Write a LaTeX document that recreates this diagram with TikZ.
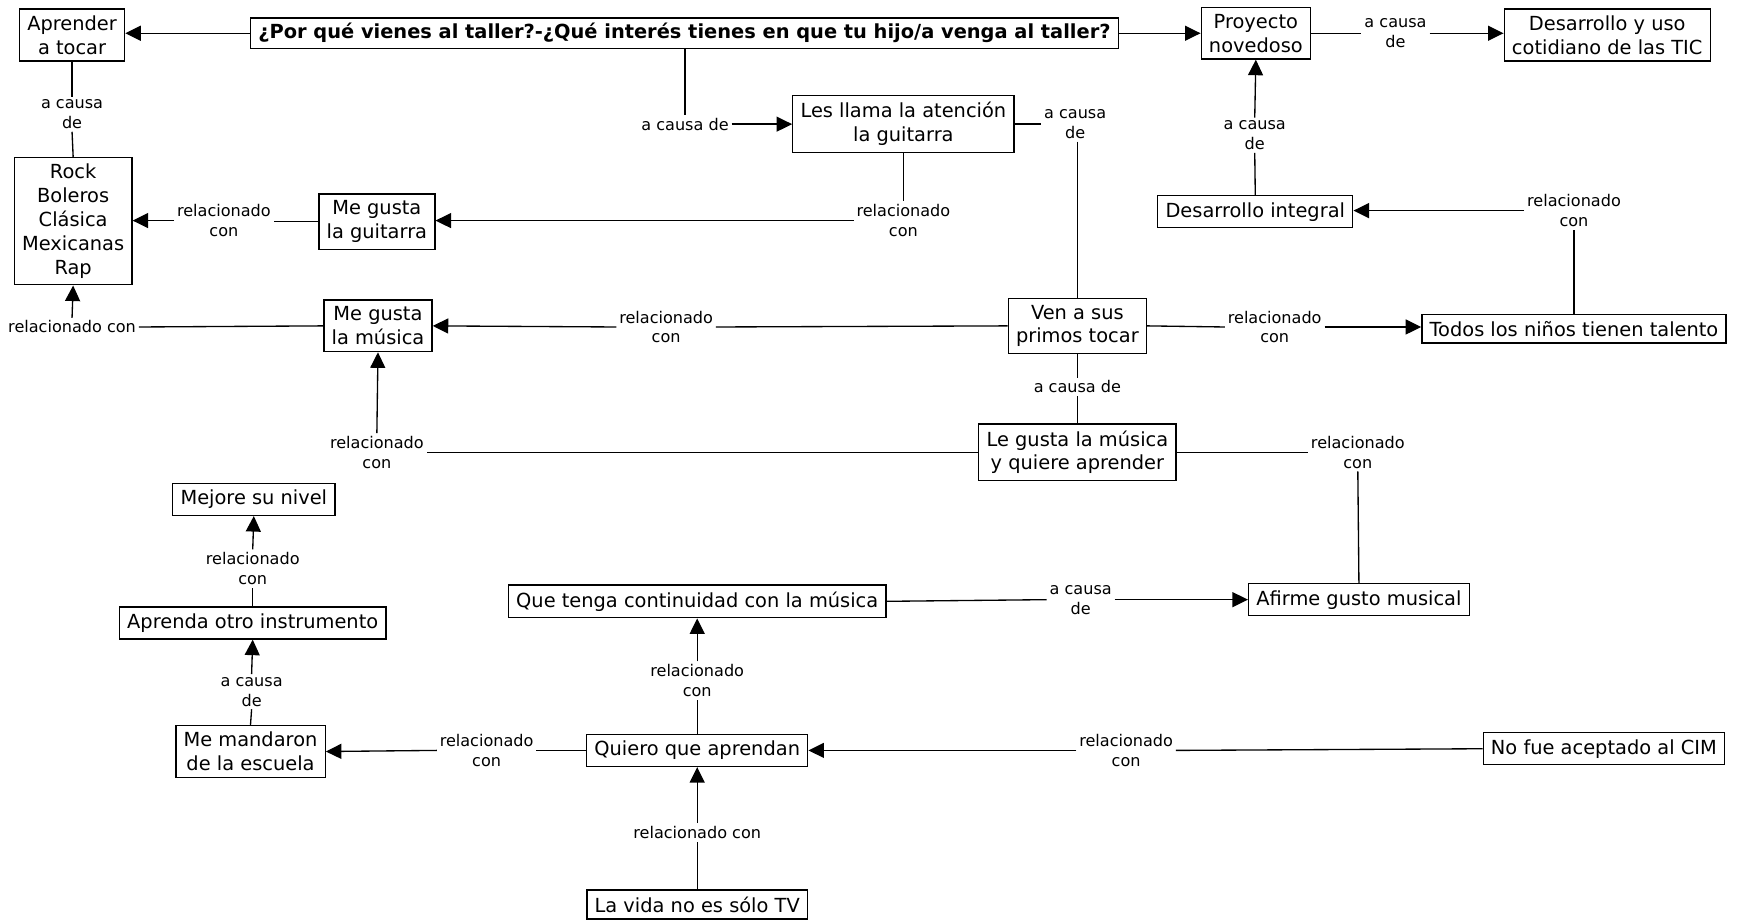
\documentclass[tikz,border=0pt]{standalone}
\usepackage{fontspec}
\setmainfont{DejaVu Sans}
\usetikzlibrary{arrows.meta}
\tikzset{
  box/.style={draw, line width=1.2pt, fill=white, align=center,
    font=\fontsize{17.5}{21.5}\selectfont, inner xsep=7pt, inner ysep=6pt},
  lbl/.style={align=center, font=\fontsize{14.5}{18}\selectfont, inner sep=2.5pt},
  con/.style={line width=1.2pt},
  arr/.style={con, -{Triangle[length=14pt,width=13.5pt]}},
}
\begin{document}
\begin{tikzpicture}[x=1pt,y=-1pt]
\useasboundingbox (0,0) rectangle (1568,830);
% concepts
\node[box] (aprender) at (65,31.5) {Aprender\\a tocar};
\node[box, font=\bfseries\fontsize{17.5}{21}\selectfont, inner ysep=5pt] (title) at (617.5,30) {¿Por qué vienes al taller?-¿Qué interés tienes en que tu hijo/a venga al taller?};
\node[box] (proyecto) at (1133,30) {Proyecto\\novedoso};
\node[box] (tic) at (1450,31.5) {Desarrollo y uso\\cotidiano de las TIC};
\node[box] (llama) at (815,112) {Les llama la atención\\la guitarra};
\node[box] (rock) at (66,199.5) {Rock\\Boleros\\Clásica\\Mexicanas\\Rap};
\node[box] (guitarra) at (340,200) {Me gusta\\la guitarra};
\node[box] (integral) at (1132.5,191) {Desarrollo integral};
\node[box] (musica) at (341,294) {Me gusta\\la música};
\node[box] (ven) at (972,294) {Ven a sus\\primos tocar};
\node[box] (todos) at (1420,296.5) {Todos los niños tienen talento};
\node[box] (legusta) at (972,408) {Le gusta la música\\y quiere aprender};
\node[box] (mejore) at (229,450.5) {Mejore su nivel};
\node[box] (aprenda) at (228,562) {Aprenda otro instrumento};
\node[box] (continuidad) at (629,542.5) {Que tenga continuidad con la música};
\node[box] (afirme) at (1226,541) {Afirme gusto musical};
\node[box] (mandaron) at (226,678) {Me mandaron\\de la escuela};
\node[box] (quiero) at (629,677) {Quiero que aprendan};
\node[box] (cim) at (1447,675.5) {No fue aceptado al CIM};
\node[box] (tv) at (629,816) {La vida no es sólo TV};
% linking phrases
\node[lbl] (l1) at (618,112) {a causa de};
\node[lbl] (l2) at (1259,30) {a causa\\de};
\node[lbl] (l3) at (970,112) {a causa\\de};
\node[lbl] (l4) at (815,199) {relacionado\\con};
\node[lbl] (l5) at (202,199) {relacionado\\con};
\node[lbl] (l6) at (65,103) {a causa\\de};
\node[lbl] (l7) at (1132,122) {a causa\\de};
\node[lbl] (l8) at (1420,190) {relacionado\\con};
\node[lbl] (l9) at (1150,295) {relacionado\\con};
\node[lbl] (l10) at (601,295) {relacionado\\con};
\node[lbl] (l11) at (65,295) {relacionado con};
\node[lbl] (l12) at (972,349) {a causa de};
\node[lbl] (l13) at (340,408) {relacionado\\con};
\node[lbl] (l14) at (1225,408) {relacionado\\con};
\node[lbl] (l15) at (975,541) {a causa\\de};
\node[lbl] (l16) at (629,614) {relacionado\\con};
\node[lbl] (l17) at (439,677) {relacionado\\con};
\node[lbl] (l18) at (1016,677) {relacionado\\con};
\node[lbl] (l19) at (629,751) {relacionado con};
\node[lbl] (l20) at (227,624) {a causa\\de};
\node[lbl] (l21) at (228,513) {relacionado\\con};
% connectors
\draw[arr] (title.west) -- (title.west -| aprender.east);
\draw[arr] (title.east) -- (title.east -| proyecto.west);
\draw[con] (title.south -| l1.north) -- (l1.north);
\draw[arr] (l1.east) -- (llama.west);
\draw[con] (proyecto.east) -- (l2.west);
\draw[arr] (l2.east) -- (l2.east -| tic.west);
\draw[con] (llama.east) -- (l3.west);
\draw[con] (l3.south -| ven.north) -- (ven.north);
\draw[con] (llama.south) -- (l4.north);
\draw[arr] (l4.west) -- (l4.west -| guitarra.east);
\draw[con] (guitarra.west) -- (guitarra.west -| l5.east);
\draw[arr] (l5.west) -- (l5.west -| rock.east);
\draw[con] (aprender.south) -- (l6.north);
\draw[con] (l6.south) -- (rock.north);
\draw[con] (integral.north) -- (l7.south);
\draw[arr] (l7.north) -- (proyecto.south);
\draw[con] (todos.north) -- (l8.south);
\draw[arr] (l8.west) -- (l8.west -| integral.east);
\draw[con] (ven.east) -- (l9.west);
\draw[arr] (l9.east) -- (l9.east -| todos.west);
\draw[con] (ven.west) -- (l10.east);
\draw[arr] (l10.west) -- (musica.east);
\draw[con] (musica.west) -- (l11.east);
\draw[arr] (l11.north) -- (rock.south);
\draw[con] (ven.south) -- (l12.north);
\draw[con] (l12.south) -- (legusta.north);
\draw[con] (legusta.west) -- (l13.east);
\draw[arr] (l13.north) -- (musica.south);
\draw[con] (legusta.east) -- (l14.west);
\draw[con] (l14.south) -- (afirme.north);
\draw[con] (continuidad.east) -- (l15.west);
\draw[arr] (l15.east) -- (afirme.west);
\draw[con] (quiero.north) -- (l16.south);
\draw[arr] (l16.north) -- (continuidad.south);
\draw[con] (quiero.west) -- (l17.east);
\draw[arr] (l17.west) -- (mandaron.east);
\draw[con] (cim.west) -- (l18.east);
\draw[arr] (l18.west) -- (quiero.east);
\draw[con] (tv.north) -- (l19.south);
\draw[arr] (l19.north) -- (quiero.south);
\draw[con] (mandaron.north) -- (l20.south);
\draw[arr] (l20.north) -- (aprenda.south);
\draw[con] (aprenda.north) -- (l21.south);
\draw[arr] (l21.north) -- (mejore.south);
\end{tikzpicture}
\end{document}
